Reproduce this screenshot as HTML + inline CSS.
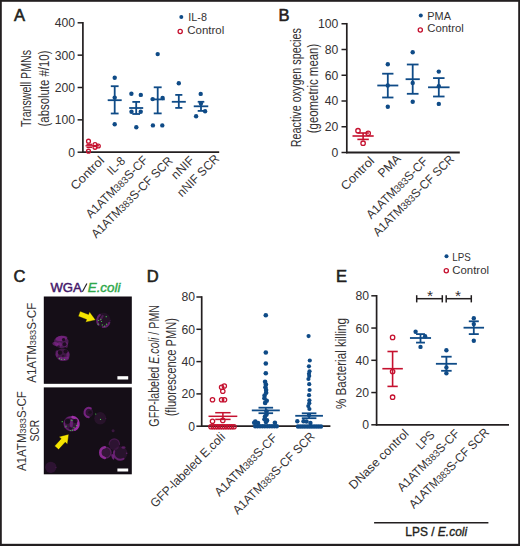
<!DOCTYPE html>
<html><head><meta charset="utf-8"><style>
html,body{margin:0;padding:0;background:#fff;}
svg{display:block;font-family:"Liberation Sans", sans-serif;}
</style></head><body>
<svg width="520" height="546" viewBox="0 0 520 546">
<rect x="0" y="0" width="520" height="546" fill="#231f20"/>
<rect x="1.8" y="1.8" width="516.4" height="542" fill="#fff"/>
<text x="13.9" y="21.2" font-size="16.5" text-anchor="start" fill="#231f20" stroke="#231f20" stroke-width="0.6">A</text>
<text x="278.4" y="21.2" font-size="16.5" text-anchor="start" fill="#231f20" stroke="#231f20" stroke-width="0.6">B</text>
<text x="13.6" y="282.0" font-size="16.5" text-anchor="start" fill="#231f20" stroke="#231f20" stroke-width="0.6">C</text>
<text x="146.8" y="281.6" font-size="16.5" text-anchor="start" fill="#231f20" stroke="#231f20" stroke-width="0.6">D</text>
<text x="335.9" y="281.9" font-size="16.5" text-anchor="start" fill="#231f20" stroke="#231f20" stroke-width="0.6">E</text>
<line x1="82.9" y1="22.0" x2="82.9" y2="153.0" stroke="#231f20" stroke-width="1.7" stroke-linecap="butt"/>
<line x1="77.60000000000001" y1="22.799999999999983" x2="82.9" y2="22.799999999999983" stroke="#231f20" stroke-width="1.5" stroke-linecap="butt"/>
<text x="75.10000000000001" y="27.25" font-size="12.2" text-anchor="end" fill="#353233">400</text>
<line x1="77.60000000000001" y1="55.14999999999999" x2="82.9" y2="55.14999999999999" stroke="#231f20" stroke-width="1.5" stroke-linecap="butt"/>
<text x="75.10000000000001" y="59.6" font-size="12.2" text-anchor="end" fill="#353233">300</text>
<line x1="77.60000000000001" y1="87.49999999999999" x2="82.9" y2="87.49999999999999" stroke="#231f20" stroke-width="1.5" stroke-linecap="butt"/>
<text x="75.10000000000001" y="91.95" font-size="12.2" text-anchor="end" fill="#353233">200</text>
<line x1="77.60000000000001" y1="119.85" x2="82.9" y2="119.85" stroke="#231f20" stroke-width="1.5" stroke-linecap="butt"/>
<text x="75.10000000000001" y="124.3" font-size="12.2" text-anchor="end" fill="#353233">100</text>
<line x1="77.60000000000001" y1="152.2" x2="82.9" y2="152.2" stroke="#231f20" stroke-width="1.5" stroke-linecap="butt"/>
<text x="75.10000000000001" y="156.65" font-size="12.2" text-anchor="end" fill="#353233">0</text>
<line x1="82.1" y1="152.2" x2="219.2" y2="152.2" stroke="#231f20" stroke-width="1.8" stroke-linecap="butt"/>
<text x="31.2" y="88.5" font-size="15" text-anchor="middle" fill="#353233" textLength="77" lengthAdjust="spacingAndGlyphs" transform="rotate(-90 31.2 88.5)">Transwell PMNs</text>
<text x="48.8" y="88.5" font-size="15" text-anchor="middle" fill="#353233" textLength="76" lengthAdjust="spacingAndGlyphs" transform="rotate(-90 48.8 88.5)">(absolute #/10)</text>
<circle cx="181.3" cy="17.0" r="2.0" fill="#0f4b87"/>
<text x="188.3" y="21.1" font-size="11.5" text-anchor="start" fill="#353233" textLength="18.6" lengthAdjust="spacingAndGlyphs">IL-8</text>
<circle cx="180.2" cy="31.5" r="2.1" fill="none" stroke="#c5112f" stroke-width="1.3"/>
<text x="187.3" y="33.6" font-size="11.5" text-anchor="start" fill="#353233" textLength="37" lengthAdjust="spacingAndGlyphs">Control</text>
<circle cx="88.5" cy="141.2" r="1.95" fill="none" stroke="#c5112f" stroke-width="1.3"/>
<circle cx="88.5" cy="151.2" r="1.95" fill="none" stroke="#c5112f" stroke-width="1.3"/>
<circle cx="95" cy="144.6" r="1.95" fill="none" stroke="#c5112f" stroke-width="1.3"/>
<circle cx="95" cy="147.3" r="1.95" fill="none" stroke="#c5112f" stroke-width="1.3"/>
<circle cx="98.3" cy="146" r="1.95" fill="none" stroke="#c5112f" stroke-width="1.3"/>
<line x1="86.5" y1="144.3" x2="92" y2="144.3" stroke="#c5112f" stroke-width="1.3" stroke-linecap="butt"/>
<line x1="86.5" y1="147.4" x2="92" y2="147.4" stroke="#c5112f" stroke-width="1.3" stroke-linecap="butt"/>
<line x1="85.5" y1="145.8" x2="99" y2="145.8" stroke="#c5112f" stroke-width="1.4" stroke-linecap="butt"/>
<line x1="114.7" y1="86.2" x2="114.7" y2="113.5" stroke="#0f4b87" stroke-width="1.8" stroke-linecap="butt"/>
<line x1="110.8" y1="86.2" x2="118.60000000000001" y2="86.2" stroke="#0f4b87" stroke-width="1.8" stroke-linecap="butt"/>
<line x1="110.8" y1="113.5" x2="118.60000000000001" y2="113.5" stroke="#0f4b87" stroke-width="1.8" stroke-linecap="butt"/>
<line x1="107.7" y1="100.2" x2="121.7" y2="100.2" stroke="#0f4b87" stroke-width="1.8" stroke-linecap="butt"/>
<circle cx="114.7" cy="77.7" r="2.2" fill="#0f4b87"/>
<circle cx="114.7" cy="97.6" r="2.2" fill="#0f4b87"/>
<circle cx="114.7" cy="124.2" r="2.2" fill="#0f4b87"/>
<line x1="136.2" y1="101.9" x2="136.2" y2="114" stroke="#0f4b87" stroke-width="1.8" stroke-linecap="butt"/>
<line x1="132.35" y1="101.9" x2="140.04999999999998" y2="101.9" stroke="#0f4b87" stroke-width="1.8" stroke-linecap="butt"/>
<line x1="132.35" y1="114" x2="140.04999999999998" y2="114" stroke="#0f4b87" stroke-width="1.8" stroke-linecap="butt"/>
<line x1="129.2" y1="108" x2="143.2" y2="108" stroke="#0f4b87" stroke-width="1.8" stroke-linecap="butt"/>
<circle cx="131.4" cy="93.8" r="2.2" fill="#0f4b87"/>
<circle cx="140.8" cy="94.9" r="2.2" fill="#0f4b87"/>
<circle cx="131.5" cy="111.8" r="2.2" fill="#0f4b87"/>
<circle cx="140.7" cy="111.8" r="2.2" fill="#0f4b87"/>
<circle cx="136.3" cy="127.3" r="2.2" fill="#0f4b87"/>
<line x1="157.7" y1="87.3" x2="157.7" y2="113.4" stroke="#0f4b87" stroke-width="1.8" stroke-linecap="butt"/>
<line x1="153.75" y1="87.3" x2="161.64999999999998" y2="87.3" stroke="#0f4b87" stroke-width="1.8" stroke-linecap="butt"/>
<line x1="153.75" y1="113.4" x2="161.64999999999998" y2="113.4" stroke="#0f4b87" stroke-width="1.8" stroke-linecap="butt"/>
<line x1="150.7" y1="99.4" x2="164.7" y2="99.4" stroke="#0f4b87" stroke-width="1.8" stroke-linecap="butt"/>
<circle cx="157.7" cy="54.1" r="2.2" fill="#0f4b87"/>
<circle cx="152.7" cy="99.1" r="2.2" fill="#0f4b87"/>
<circle cx="162.6" cy="98.0" r="2.2" fill="#0f4b87"/>
<circle cx="152.9" cy="125.4" r="2.2" fill="#0f4b87"/>
<circle cx="162.3" cy="125.4" r="2.2" fill="#0f4b87"/>
<line x1="178.8" y1="94.9" x2="178.8" y2="107.9" stroke="#0f4b87" stroke-width="1.8" stroke-linecap="butt"/>
<line x1="175.25" y1="94.9" x2="182.35000000000002" y2="94.9" stroke="#0f4b87" stroke-width="1.8" stroke-linecap="butt"/>
<line x1="175.25" y1="107.9" x2="182.35000000000002" y2="107.9" stroke="#0f4b87" stroke-width="1.8" stroke-linecap="butt"/>
<line x1="171.8" y1="101.8" x2="185.8" y2="101.8" stroke="#0f4b87" stroke-width="1.8" stroke-linecap="butt"/>
<circle cx="178.8" cy="83.2" r="2.2" fill="#0f4b87"/>
<line x1="201" y1="101.8" x2="201" y2="110.9" stroke="#0f4b87" stroke-width="1.8" stroke-linecap="butt"/>
<line x1="197.7" y1="101.8" x2="204.3" y2="101.8" stroke="#0f4b87" stroke-width="1.8" stroke-linecap="butt"/>
<line x1="197.7" y1="110.9" x2="204.3" y2="110.9" stroke="#0f4b87" stroke-width="1.8" stroke-linecap="butt"/>
<line x1="193.75" y1="106.3" x2="208.25" y2="106.3" stroke="#0f4b87" stroke-width="1.8" stroke-linecap="butt"/>
<circle cx="200.7" cy="93.9" r="2.2" fill="#0f4b87"/>
<circle cx="200.9" cy="103.5" r="2.2" fill="#0f4b87"/>
<circle cx="205.1" cy="111.2" r="2.2" fill="#0f4b87"/>
<circle cx="196.1" cy="116.2" r="2.2" fill="#0f4b87"/>
<line x1="346.8" y1="22.95" x2="346.8" y2="153.3" stroke="#231f20" stroke-width="1.7" stroke-linecap="butt"/>
<line x1="341.5" y1="23.75" x2="346.8" y2="23.75" stroke="#231f20" stroke-width="1.5" stroke-linecap="butt"/>
<text x="338.40000000000003" y="28.2" font-size="12.2" text-anchor="end" fill="#353233">100</text>
<line x1="341.5" y1="49.5" x2="346.8" y2="49.5" stroke="#231f20" stroke-width="1.5" stroke-linecap="butt"/>
<text x="338.40000000000003" y="53.95" font-size="12.2" text-anchor="end" fill="#353233">80</text>
<line x1="341.5" y1="75.25" x2="346.8" y2="75.25" stroke="#231f20" stroke-width="1.5" stroke-linecap="butt"/>
<text x="338.40000000000003" y="79.7" font-size="12.2" text-anchor="end" fill="#353233">60</text>
<line x1="341.5" y1="101.0" x2="346.8" y2="101.0" stroke="#231f20" stroke-width="1.5" stroke-linecap="butt"/>
<text x="338.40000000000003" y="105.45" font-size="12.2" text-anchor="end" fill="#353233">40</text>
<line x1="341.5" y1="126.75" x2="346.8" y2="126.75" stroke="#231f20" stroke-width="1.5" stroke-linecap="butt"/>
<text x="338.40000000000003" y="131.2" font-size="12.2" text-anchor="end" fill="#353233">20</text>
<line x1="341.5" y1="152.5" x2="346.8" y2="152.5" stroke="#231f20" stroke-width="1.5" stroke-linecap="butt"/>
<text x="338.40000000000003" y="156.95" font-size="12.2" text-anchor="end" fill="#353233">0</text>
<line x1="346.1" y1="152.5" x2="459.8" y2="152.5" stroke="#231f20" stroke-width="1.8" stroke-linecap="butt"/>
<text x="300.8" y="87.7" font-size="15" text-anchor="middle" fill="#353233" textLength="119" lengthAdjust="spacingAndGlyphs" transform="rotate(-90 300.8 87.7)">Reactive oxygen species</text>
<text x="318.3" y="88.5" font-size="15" text-anchor="middle" fill="#353233" textLength="89.5" lengthAdjust="spacingAndGlyphs" transform="rotate(-90 318.3 88.5)">(geometric mean)</text>
<circle cx="420.8" cy="15.5" r="2.0" fill="#0f4b87"/>
<text x="427.3" y="19.6" font-size="11.5" text-anchor="start" fill="#353233" textLength="23.6" lengthAdjust="spacingAndGlyphs">PMA</text>
<circle cx="420.3" cy="30.0" r="2.1" fill="none" stroke="#c5112f" stroke-width="1.3"/>
<text x="427.3" y="31.7" font-size="11.5" text-anchor="start" fill="#353233" textLength="36.5" lengthAdjust="spacingAndGlyphs">Control</text>
<line x1="363.1" y1="133.0" x2="363.1" y2="139.4" stroke="#c5112f" stroke-width="1.6" stroke-linecap="butt"/>
<line x1="357.35" y1="133.0" x2="368.85" y2="133.0" stroke="#c5112f" stroke-width="1.6" stroke-linecap="butt"/>
<line x1="357.35" y1="139.4" x2="368.85" y2="139.4" stroke="#c5112f" stroke-width="1.6" stroke-linecap="butt"/>
<line x1="352.5" y1="136.0" x2="373.70000000000005" y2="136.0" stroke="#c5112f" stroke-width="1.6" stroke-linecap="butt"/>
<circle cx="358" cy="130.7" r="2.2" fill="none" stroke="#c5112f" stroke-width="1.3"/>
<circle cx="368.2" cy="133.3" r="2.2" fill="none" stroke="#c5112f" stroke-width="1.3"/>
<circle cx="363.1" cy="143.2" r="2.2" fill="none" stroke="#c5112f" stroke-width="1.3"/>
<line x1="387.8" y1="73.7" x2="387.8" y2="97.5" stroke="#0f4b87" stroke-width="1.8" stroke-linecap="butt"/>
<line x1="382.15000000000003" y1="73.7" x2="393.45" y2="73.7" stroke="#0f4b87" stroke-width="1.8" stroke-linecap="butt"/>
<line x1="382.15000000000003" y1="97.5" x2="393.45" y2="97.5" stroke="#0f4b87" stroke-width="1.8" stroke-linecap="butt"/>
<line x1="377.3" y1="85.5" x2="398.3" y2="85.5" stroke="#0f4b87" stroke-width="1.8" stroke-linecap="butt"/>
<circle cx="387.8" cy="64.2" r="2.2" fill="#0f4b87"/>
<circle cx="387.8" cy="85.5" r="2.2" fill="#0f4b87"/>
<circle cx="387.8" cy="106.7" r="2.2" fill="#0f4b87"/>
<line x1="412.7" y1="64.5" x2="412.7" y2="93.8" stroke="#0f4b87" stroke-width="1.8" stroke-linecap="butt"/>
<line x1="406.84999999999997" y1="64.5" x2="418.55" y2="64.5" stroke="#0f4b87" stroke-width="1.8" stroke-linecap="butt"/>
<line x1="406.84999999999997" y1="93.8" x2="418.55" y2="93.8" stroke="#0f4b87" stroke-width="1.8" stroke-linecap="butt"/>
<line x1="405.59999999999997" y1="79.2" x2="419.8" y2="79.2" stroke="#0f4b87" stroke-width="1.8" stroke-linecap="butt"/>
<circle cx="412.7" cy="52.2" r="2.2" fill="#0f4b87"/>
<circle cx="412.7" cy="82.9" r="2.2" fill="#0f4b87"/>
<circle cx="412.7" cy="101.8" r="2.2" fill="#0f4b87"/>
<line x1="438.8" y1="78.1" x2="438.8" y2="96.5" stroke="#0f4b87" stroke-width="1.8" stroke-linecap="butt"/>
<line x1="433.05" y1="78.1" x2="444.55" y2="78.1" stroke="#0f4b87" stroke-width="1.8" stroke-linecap="butt"/>
<line x1="433.05" y1="96.5" x2="444.55" y2="96.5" stroke="#0f4b87" stroke-width="1.8" stroke-linecap="butt"/>
<line x1="428.05" y1="87.3" x2="449.55" y2="87.3" stroke="#0f4b87" stroke-width="1.8" stroke-linecap="butt"/>
<circle cx="438.8" cy="71.6" r="2.2" fill="#0f4b87"/>
<circle cx="438.8" cy="86.2" r="2.2" fill="#0f4b87"/>
<circle cx="438.8" cy="103.9" r="2.2" fill="#0f4b87"/>
<line x1="201.7" y1="296.2" x2="201.7" y2="427.0" stroke="#231f20" stroke-width="1.7" stroke-linecap="butt"/>
<line x1="196.39999999999998" y1="297.0" x2="201.7" y2="297.0" stroke="#231f20" stroke-width="1.5" stroke-linecap="butt"/>
<text x="195.0" y="301.45" font-size="12.2" text-anchor="end" fill="#353233">80</text>
<line x1="196.39999999999998" y1="329.29999999999995" x2="201.7" y2="329.29999999999995" stroke="#231f20" stroke-width="1.5" stroke-linecap="butt"/>
<text x="195.0" y="333.75" font-size="12.2" text-anchor="end" fill="#353233">60</text>
<line x1="196.39999999999998" y1="361.6" x2="201.7" y2="361.6" stroke="#231f20" stroke-width="1.5" stroke-linecap="butt"/>
<text x="195.0" y="366.05" font-size="12.2" text-anchor="end" fill="#353233">40</text>
<line x1="196.39999999999998" y1="393.9" x2="201.7" y2="393.9" stroke="#231f20" stroke-width="1.5" stroke-linecap="butt"/>
<text x="195.0" y="398.35" font-size="12.2" text-anchor="end" fill="#353233">20</text>
<line x1="196.39999999999998" y1="426.2" x2="201.7" y2="426.2" stroke="#231f20" stroke-width="1.5" stroke-linecap="butt"/>
<text x="195.0" y="430.65" font-size="12.2" text-anchor="end" fill="#353233">0</text>
<line x1="201.0" y1="426.2" x2="330.4" y2="426.2" stroke="#231f20" stroke-width="1.8" stroke-linecap="butt"/>
<text x="158.8" y="365.8" font-size="15" text-anchor="middle" fill="#353233" textLength="121.7" lengthAdjust="spacingAndGlyphs" transform="rotate(-90 158.8 365.8)">GFP-labeled <tspan font-style="italic">E.coli</tspan> / PMN</text>
<text x="175.8" y="367.2" font-size="15" text-anchor="middle" fill="#353233" textLength="98.3" lengthAdjust="spacingAndGlyphs" transform="rotate(-90 175.8 367.2)">(fluorescence PMN)</text>
<line x1="376.6" y1="295.0" x2="376.6" y2="425.6" stroke="#231f20" stroke-width="1.7" stroke-linecap="butt"/>
<line x1="371.3" y1="295.8" x2="376.6" y2="295.8" stroke="#231f20" stroke-width="1.5" stroke-linecap="butt"/>
<text x="369.0" y="300.25" font-size="12.2" text-anchor="end" fill="#353233">80</text>
<line x1="371.3" y1="328.05" x2="376.6" y2="328.05" stroke="#231f20" stroke-width="1.5" stroke-linecap="butt"/>
<text x="369.0" y="332.5" font-size="12.2" text-anchor="end" fill="#353233">60</text>
<line x1="371.3" y1="360.3" x2="376.6" y2="360.3" stroke="#231f20" stroke-width="1.5" stroke-linecap="butt"/>
<text x="369.0" y="364.75" font-size="12.2" text-anchor="end" fill="#353233">40</text>
<line x1="371.3" y1="392.55" x2="376.6" y2="392.55" stroke="#231f20" stroke-width="1.5" stroke-linecap="butt"/>
<text x="369.0" y="397.0" font-size="12.2" text-anchor="end" fill="#353233">20</text>
<line x1="371.3" y1="424.8" x2="376.6" y2="424.8" stroke="#231f20" stroke-width="1.5" stroke-linecap="butt"/>
<text x="369.0" y="429.25" font-size="12.2" text-anchor="end" fill="#353233">0</text>
<line x1="375.9" y1="424.8" x2="509" y2="424.8" stroke="#231f20" stroke-width="1.8" stroke-linecap="butt"/>
<text x="346.3" y="363.5" font-size="15" text-anchor="middle" fill="#353233" textLength="91" lengthAdjust="spacingAndGlyphs" transform="rotate(-90 346.3 363.5)">% Bacterial killing</text>
<circle cx="446.5" cy="256.2" r="2.0" fill="#0f4b87"/>
<text x="452.3" y="261.2" font-size="11.5" text-anchor="start" fill="#353233" textLength="18.5" lengthAdjust="spacingAndGlyphs">LPS</text>
<circle cx="446.3" cy="270.8" r="2.1" fill="none" stroke="#c5112f" stroke-width="1.3"/>
<text x="452.3" y="273.6" font-size="11.5" text-anchor="start" fill="#353233" textLength="36.7" lengthAdjust="spacingAndGlyphs">Control</text>
<line x1="416.7" y1="298.7" x2="442.3" y2="298.7" stroke="#231f20" stroke-width="1.5" stroke-linecap="butt"/>
<line x1="416.7" y1="295.2" x2="416.7" y2="302.4" stroke="#231f20" stroke-width="1.5" stroke-linecap="butt"/>
<line x1="442.3" y1="295.2" x2="442.3" y2="302.4" stroke="#231f20" stroke-width="1.5" stroke-linecap="butt"/>
<text x="430" y="301.3" font-size="15.5" text-anchor="middle" fill="#353233">*</text>
<line x1="446.2" y1="298.7" x2="471.3" y2="298.7" stroke="#231f20" stroke-width="1.5" stroke-linecap="butt"/>
<line x1="446.2" y1="295.2" x2="446.2" y2="302.4" stroke="#231f20" stroke-width="1.5" stroke-linecap="butt"/>
<line x1="471.3" y1="295.2" x2="471.3" y2="302.4" stroke="#231f20" stroke-width="1.5" stroke-linecap="butt"/>
<text x="458" y="301.3" font-size="15.5" text-anchor="middle" fill="#353233">*</text>
<circle cx="392.6" cy="337.4" r="2.2" fill="none" stroke="#c5112f" stroke-width="1.3"/>
<circle cx="392.6" cy="371.5" r="2.2" fill="none" stroke="#c5112f" stroke-width="1.3"/>
<circle cx="392.6" cy="397.2" r="2.2" fill="none" stroke="#c5112f" stroke-width="1.3"/>
<line x1="392.6" y1="351.5" x2="392.6" y2="386.4" stroke="#c5112f" stroke-width="1.6" stroke-linecap="butt"/>
<line x1="387.45000000000005" y1="351.5" x2="397.75" y2="351.5" stroke="#c5112f" stroke-width="1.6" stroke-linecap="butt"/>
<line x1="387.45000000000005" y1="386.4" x2="397.75" y2="386.4" stroke="#c5112f" stroke-width="1.6" stroke-linecap="butt"/>
<line x1="382.35" y1="368.7" x2="402.85" y2="368.7" stroke="#c5112f" stroke-width="1.6" stroke-linecap="butt"/>
<line x1="420.5" y1="334.1" x2="420.5" y2="342.6" stroke="#0f4b87" stroke-width="1.8" stroke-linecap="butt"/>
<line x1="416.05" y1="334.1" x2="424.95" y2="334.1" stroke="#0f4b87" stroke-width="1.8" stroke-linecap="butt"/>
<line x1="416.05" y1="342.6" x2="424.95" y2="342.6" stroke="#0f4b87" stroke-width="1.8" stroke-linecap="butt"/>
<line x1="409.95" y1="338" x2="431.05" y2="338" stroke="#0f4b87" stroke-width="1.8" stroke-linecap="butt"/>
<circle cx="415.6" cy="331.8" r="2.2" fill="#0f4b87"/>
<circle cx="425.1" cy="336.2" r="2.2" fill="#0f4b87"/>
<circle cx="420.5" cy="346.9" r="2.2" fill="#0f4b87"/>
<line x1="446.4" y1="356.7" x2="446.4" y2="370.8" stroke="#0f4b87" stroke-width="1.8" stroke-linecap="butt"/>
<line x1="441.15" y1="356.7" x2="451.65" y2="356.7" stroke="#0f4b87" stroke-width="1.8" stroke-linecap="butt"/>
<line x1="441.15" y1="370.8" x2="451.65" y2="370.8" stroke="#0f4b87" stroke-width="1.8" stroke-linecap="butt"/>
<line x1="435.9" y1="363.8" x2="456.9" y2="363.8" stroke="#0f4b87" stroke-width="1.8" stroke-linecap="butt"/>
<circle cx="446.4" cy="350.3" r="2.2" fill="#0f4b87"/>
<circle cx="446.4" cy="367.4" r="2.2" fill="#0f4b87"/>
<circle cx="446.4" cy="373.3" r="2.2" fill="#0f4b87"/>
<line x1="473.8" y1="321.3" x2="473.8" y2="334.1" stroke="#0f4b87" stroke-width="1.8" stroke-linecap="butt"/>
<line x1="468.8" y1="321.3" x2="478.8" y2="321.3" stroke="#0f4b87" stroke-width="1.8" stroke-linecap="butt"/>
<line x1="468.8" y1="334.1" x2="478.8" y2="334.1" stroke="#0f4b87" stroke-width="1.8" stroke-linecap="butt"/>
<line x1="463.55" y1="327.7" x2="484.05" y2="327.7" stroke="#0f4b87" stroke-width="1.8" stroke-linecap="butt"/>
<circle cx="473.8" cy="318.2" r="2.2" fill="#0f4b87"/>
<circle cx="473.8" cy="324.1" r="2.2" fill="#0f4b87"/>
<circle cx="473.8" cy="340.8" r="2.2" fill="#0f4b87"/>
<line x1="374.1" y1="522.7" x2="488.4" y2="522.7" stroke="#231f20" stroke-width="1.4" stroke-linecap="butt"/>
<text x="405.3" y="536.2" font-size="12" text-anchor="start" fill="#231f20" textLength="61.8" lengthAdjust="spacingAndGlyphs" stroke="#231f20" stroke-width="0.35">LPS / <tspan font-style="italic">E.coli</tspan></text>
<text x="105.0" y="161.25" font-size="12.3" text-anchor="end" fill="#353233" textLength="41.85" lengthAdjust="spacingAndGlyphs" transform="rotate(-45 105.0 161.25)">Control</text>
<text x="126.1" y="161.65" font-size="12.3" text-anchor="end" fill="#353233" textLength="19.86" lengthAdjust="spacingAndGlyphs" transform="rotate(-45 126.1 161.65)">IL-8</text>
<text x="148.7" y="160.9" font-size="12.3" text-anchor="end" fill="#353233" textLength="81.95" lengthAdjust="spacingAndGlyphs" transform="rotate(-45 148.7 160.9)">A1ATM<tspan font-size="10.09">383</tspan>S-CF</text>
<text x="173.4" y="161.6" font-size="12.3" text-anchor="end" fill="#353233" textLength="109.2" lengthAdjust="spacingAndGlyphs" transform="rotate(-45 173.4 161.6)">A1ATM<tspan font-size="10.09">383</tspan>S-CF SCR</text>
<text x="195.0" y="161.05" font-size="12.3" text-anchor="end" fill="#353233" textLength="26.73" lengthAdjust="spacingAndGlyphs" transform="rotate(-45 195.0 161.05)">nNIF</text>
<text x="219.9" y="159.6" font-size="12.3" text-anchor="end" fill="#353233" textLength="53.49" lengthAdjust="spacingAndGlyphs" transform="rotate(-45 219.9 159.6)">nNIF SCR</text>
<text x="375.05" y="161.6" font-size="12.3" text-anchor="end" fill="#353233" textLength="41.42" lengthAdjust="spacingAndGlyphs" transform="rotate(-45 375.05 161.6)">Control</text>
<text x="401.65" y="159.45" font-size="12.3" text-anchor="end" fill="#353233" textLength="26.66" lengthAdjust="spacingAndGlyphs" transform="rotate(-45 401.65 159.45)">PMA</text>
<text x="428.55" y="162.2" font-size="12.3" text-anchor="end" fill="#353233" textLength="81.03" lengthAdjust="spacingAndGlyphs" transform="rotate(-45 428.55 162.2)">A1ATM<tspan font-size="10.09">383</tspan>S-CF</text>
<text x="455.0" y="159.95" font-size="12.3" text-anchor="end" fill="#353233" textLength="108.85" lengthAdjust="spacingAndGlyphs" transform="rotate(-45 455.0 159.95)">A1ATM<tspan font-size="10.09">383</tspan>S-CF SCR</text>
<text x="225.8" y="437.7" font-size="12.3" text-anchor="end" fill="#353233" textLength="99.7" lengthAdjust="spacingAndGlyphs" transform="rotate(-45 225.8 437.7)">GFP-labeled E.coli</text>
<text x="277.95" y="438.7" font-size="12.3" text-anchor="end" fill="#353233" textLength="82.58" lengthAdjust="spacingAndGlyphs" transform="rotate(-45 277.95 438.7)">A1ATM<tspan font-size="10.09">383</tspan>S-CF</text>
<text x="315.5" y="437.2" font-size="12.3" text-anchor="end" fill="#353233" textLength="109.91" lengthAdjust="spacingAndGlyphs" transform="rotate(-45 315.5 437.2)">A1ATM<tspan font-size="10.09">383</tspan>S-CF SCR</text>
<text x="409.5" y="434.4" font-size="12.3" text-anchor="end" fill="#353233" textLength="78.77" lengthAdjust="spacingAndGlyphs" transform="rotate(-45 409.5 434.4)">DNase control</text>
<text x="435.4" y="435.85" font-size="12.3" text-anchor="end" fill="#353233" textLength="20.49" lengthAdjust="spacingAndGlyphs" transform="rotate(-45 435.4 435.85)">LPS</text>
<text x="460.25" y="434.35" font-size="12.3" text-anchor="end" fill="#353233" textLength="81.95" lengthAdjust="spacingAndGlyphs" transform="rotate(-45 460.25 434.35)">A1ATM<tspan font-size="10.09">383</tspan>S-CF</text>
<text x="490.0" y="433.2" font-size="12.3" text-anchor="end" fill="#353233" textLength="107.64" lengthAdjust="spacingAndGlyphs" transform="rotate(-45 490.0 433.2)">A1ATM<tspan font-size="10.09">383</tspan>S-CF SCR</text>
<circle cx="212.5" cy="399.7" r="2.2" fill="none" stroke="#c5112f" stroke-width="1.25"/>
<circle cx="221.6" cy="399.7" r="2.2" fill="none" stroke="#c5112f" stroke-width="1.25"/>
<circle cx="224.5" cy="399.7" r="2.2" fill="none" stroke="#c5112f" stroke-width="1.25"/>
<circle cx="222.8" cy="391.3" r="2.2" fill="none" stroke="#c5112f" stroke-width="1.25"/>
<circle cx="221.6" cy="387.2" r="2.2" fill="none" stroke="#c5112f" stroke-width="1.25"/>
<circle cx="224.3" cy="386" r="2.2" fill="none" stroke="#c5112f" stroke-width="1.25"/>
<circle cx="212.5" cy="421.3" r="2.2" fill="none" stroke="#c5112f" stroke-width="1.25"/>
<circle cx="222.8" cy="420.4" r="2.2" fill="none" stroke="#c5112f" stroke-width="1.25"/>
<circle cx="211.0" cy="426.7" r="2.2" fill="none" stroke="#c5112f" stroke-width="1.25"/>
<circle cx="213.3" cy="426.7" r="2.2" fill="none" stroke="#c5112f" stroke-width="1.25"/>
<circle cx="215.6" cy="426.7" r="2.2" fill="none" stroke="#c5112f" stroke-width="1.25"/>
<circle cx="217.9" cy="426.7" r="2.2" fill="none" stroke="#c5112f" stroke-width="1.25"/>
<circle cx="220.2" cy="426.7" r="2.2" fill="none" stroke="#c5112f" stroke-width="1.25"/>
<circle cx="222.5" cy="426.7" r="2.2" fill="none" stroke="#c5112f" stroke-width="1.25"/>
<circle cx="224.8" cy="426.7" r="2.2" fill="none" stroke="#c5112f" stroke-width="1.25"/>
<circle cx="227.1" cy="426.7" r="2.2" fill="none" stroke="#c5112f" stroke-width="1.25"/>
<circle cx="229.4" cy="426.7" r="2.2" fill="none" stroke="#c5112f" stroke-width="1.25"/>
<circle cx="231.7" cy="426.7" r="2.2" fill="none" stroke="#c5112f" stroke-width="1.25"/>
<circle cx="234.0" cy="426.7" r="2.2" fill="none" stroke="#c5112f" stroke-width="1.25"/>
<line x1="222.9" y1="412.7" x2="222.9" y2="419.4" stroke="#c5112f" stroke-width="1.5" stroke-linecap="butt"/>
<line x1="215.20000000000002" y1="412.7" x2="230.6" y2="412.7" stroke="#c5112f" stroke-width="1.5" stroke-linecap="butt"/>
<line x1="215.20000000000002" y1="419.4" x2="230.6" y2="419.4" stroke="#c5112f" stroke-width="1.5" stroke-linecap="butt"/>
<line x1="208.5" y1="416.3" x2="237.3" y2="416.3" stroke="#c5112f" stroke-width="1.5" stroke-linecap="butt"/>
<circle cx="265.8" cy="315.2" r="2.3" fill="#0f4b87"/>
<circle cx="265.8" cy="352.5" r="2.3" fill="#0f4b87"/>
<circle cx="265.8" cy="363.5" r="2.3" fill="#0f4b87"/>
<circle cx="265.8" cy="373.2" r="2.3" fill="#0f4b87"/>
<circle cx="265.07" cy="381.8" r="2.3" fill="#0f4b87"/>
<circle cx="265.92" cy="384.5" r="2.3" fill="#0f4b87"/>
<circle cx="265.44" cy="387.3" r="2.3" fill="#0f4b87"/>
<circle cx="266.09" cy="390.0" r="2.3" fill="#0f4b87"/>
<circle cx="266.15" cy="392.8" r="2.3" fill="#0f4b87"/>
<circle cx="264.58" cy="395.5" r="2.3" fill="#0f4b87"/>
<circle cx="264.44" cy="398.2" r="2.3" fill="#0f4b87"/>
<circle cx="266.74" cy="400.8" r="2.3" fill="#0f4b87"/>
<circle cx="265.13" cy="402.9" r="2.3" fill="#0f4b87"/>
<circle cx="266.5" cy="411.5" r="2.3" fill="#0f4b87"/>
<circle cx="266.5" cy="414.6" r="2.3" fill="#0f4b87"/>
<circle cx="265" cy="416.5" r="2.3" fill="#0f4b87"/>
<circle cx="264.5" cy="419.2" r="2.3" fill="#0f4b87"/>
<circle cx="267" cy="420.4" r="2.3" fill="#0f4b87"/>
<circle cx="266" cy="422" r="2.3" fill="#0f4b87"/>
<circle cx="255.3" cy="421.5" r="2.3" fill="#0f4b87"/>
<circle cx="254.2" cy="422.7" r="2.3" fill="#0f4b87"/>
<circle cx="258" cy="423" r="2.3" fill="#0f4b87"/>
<circle cx="274.9" cy="422.7" r="2.3" fill="#0f4b87"/>
<circle cx="255.2" cy="426.2" r="2.2" fill="#0f4b87"/>
<circle cx="257.6" cy="426.2" r="2.2" fill="#0f4b87"/>
<circle cx="260.0" cy="426.2" r="2.2" fill="#0f4b87"/>
<circle cx="262.4" cy="426.2" r="2.2" fill="#0f4b87"/>
<circle cx="264.8" cy="426.2" r="2.2" fill="#0f4b87"/>
<circle cx="267.2" cy="426.2" r="2.2" fill="#0f4b87"/>
<circle cx="269.6" cy="426.2" r="2.2" fill="#0f4b87"/>
<circle cx="272.0" cy="426.2" r="2.2" fill="#0f4b87"/>
<circle cx="274.4" cy="426.2" r="2.2" fill="#0f4b87"/>
<circle cx="276.8" cy="426.2" r="2.2" fill="#0f4b87"/>
<line x1="265.8" y1="407.7" x2="265.8" y2="413.2" stroke="#0f4b87" stroke-width="1.8" stroke-linecap="butt"/>
<line x1="258.5" y1="407.7" x2="273.1" y2="407.7" stroke="#0f4b87" stroke-width="1.8" stroke-linecap="butt"/>
<line x1="258.5" y1="413.2" x2="273.1" y2="413.2" stroke="#0f4b87" stroke-width="1.8" stroke-linecap="butt"/>
<line x1="251.8" y1="410.4" x2="279.8" y2="410.4" stroke="#0f4b87" stroke-width="1.8" stroke-linecap="butt"/>
<circle cx="308.57" cy="336.1" r="2.1" fill="#0f4b87"/>
<circle cx="309.79" cy="360.5" r="2.1" fill="#0f4b87"/>
<circle cx="308.95" cy="366.3" r="2.1" fill="#0f4b87"/>
<circle cx="309.54" cy="371.3" r="2.1" fill="#0f4b87"/>
<circle cx="308.96" cy="373.8" r="2.1" fill="#0f4b87"/>
<circle cx="309.22" cy="376.1" r="2.1" fill="#0f4b87"/>
<circle cx="308.44" cy="379" r="2.1" fill="#0f4b87"/>
<circle cx="309.22" cy="384.2" r="2.1" fill="#0f4b87"/>
<circle cx="309.59" cy="390" r="2.1" fill="#0f4b87"/>
<circle cx="309.04" cy="395.2" r="2.1" fill="#0f4b87"/>
<circle cx="309.39" cy="400.3" r="2.1" fill="#0f4b87"/>
<circle cx="309.27" cy="403.2" r="2.1" fill="#0f4b87"/>
<circle cx="308.3" cy="406.1" r="2.1" fill="#0f4b87"/>
<circle cx="309.41" cy="409" r="2.1" fill="#0f4b87"/>
<circle cx="297.3" cy="421.2" r="2.2" fill="#0f4b87"/>
<circle cx="303.5" cy="421.3" r="2.2" fill="#0f4b87"/>
<circle cx="306.5" cy="421.5" r="2.2" fill="#0f4b87"/>
<circle cx="310.4" cy="423" r="2.2" fill="#0f4b87"/>
<circle cx="309" cy="415" r="2.2" fill="#0f4b87"/>
<circle cx="298.0" cy="426.5" r="2.2" fill="#0f4b87"/>
<circle cx="300.3" cy="426.5" r="2.2" fill="#0f4b87"/>
<circle cx="302.6" cy="426.5" r="2.2" fill="#0f4b87"/>
<circle cx="304.9" cy="426.5" r="2.2" fill="#0f4b87"/>
<circle cx="307.2" cy="426.5" r="2.2" fill="#0f4b87"/>
<circle cx="309.5" cy="426.5" r="2.2" fill="#0f4b87"/>
<circle cx="311.8" cy="426.5" r="2.2" fill="#0f4b87"/>
<circle cx="314.1" cy="426.5" r="2.2" fill="#0f4b87"/>
<circle cx="316.4" cy="426.5" r="2.2" fill="#0f4b87"/>
<circle cx="318.7" cy="426.5" r="2.2" fill="#0f4b87"/>
<circle cx="321.0" cy="426.5" r="2.2" fill="#0f4b87"/>
<line x1="309.1" y1="413.3" x2="309.1" y2="418.2" stroke="#0f4b87" stroke-width="1.8" stroke-linecap="butt"/>
<line x1="301.8" y1="413.3" x2="316.40000000000003" y2="413.3" stroke="#0f4b87" stroke-width="1.8" stroke-linecap="butt"/>
<line x1="301.8" y1="418.2" x2="316.40000000000003" y2="418.2" stroke="#0f4b87" stroke-width="1.8" stroke-linecap="butt"/>
<line x1="295.25" y1="415.8" x2="322.95000000000005" y2="415.8" stroke="#0f4b87" stroke-width="1.8" stroke-linecap="butt"/>
<text x="50.4" y="291.8" font-size="12.4" text-anchor="start" fill="#45186a" textLength="31.3" lengthAdjust="spacingAndGlyphs" stroke="#45186a" stroke-width="0.45">WGA</text>
<line x1="82.4" y1="291.7" x2="86.9" y2="283.5" stroke="#231f20" stroke-width="1.15" stroke-linecap="butt"/>
<text x="87.7" y="291.8" font-size="12.4" text-anchor="start" font-style="italic" fill="#2ea84a" textLength="32.8" lengthAdjust="spacingAndGlyphs" stroke="#2ea84a" stroke-width="0.4">E.coli</text>
<text x="36.1" y="342.8" font-size="12.3" text-anchor="middle" fill="#353233" textLength="80" lengthAdjust="spacingAndGlyphs" transform="rotate(-90 36.1 342.8)">A1ATM<tspan font-size="9.84">383</tspan>S-CF</text>
<text x="26.5" y="431.1" font-size="12.3" text-anchor="middle" fill="#353233" textLength="80" lengthAdjust="spacingAndGlyphs" transform="rotate(-90 26.5 431.1)">A1ATM<tspan font-size="9.84">383</tspan>S-CF</text>
<text x="38.7" y="430.7" font-size="12.3" text-anchor="middle" fill="#353233" textLength="21.7" lengthAdjust="spacingAndGlyphs" transform="rotate(-90 38.7 430.7)">SCR</text>
<defs><filter id="bl" x="-50%" y="-50%" width="200%" height="200%"><feGaussianBlur stdDeviation="0.8"/></filter><filter id="bl2" x="-50%" y="-50%" width="200%" height="200%"><feGaussianBlur stdDeviation="0.75"/></filter></defs>
<rect x="43.8" y="296.5" width="88" height="87.30000000000001" fill="#0e0910"/>
<rect x="44.6" y="297.3" width="86.4" height="85.70000000000002" fill="#150e17"/>
<rect x="43.8" y="387.4" width="88" height="86.90000000000003" fill="#0e0910"/>
<rect x="44.6" y="388.2" width="86.4" height="85.30000000000004" fill="#150e17"/>
<g filter="url(#bl2)">
<ellipse cx="103.5" cy="320.4" rx="7.2" ry="7.6" fill="#8f2a9c" fill-opacity="0.12"/>
<path d="M110.10 320.40 A6.6 7.0 0 0 1 110.10 320.40" fill="none" stroke="#8f2a9c" stroke-width="1.0" stroke-opacity="0.3" stroke-linecap="round"/>
<path d="M98.60 324.77 A6.4 6.8 0 0 1 99.83 314.83" fill="none" stroke="#8f2a9c" stroke-width="2.0" stroke-opacity="0.6" stroke-linecap="round"/>
<path d="M109.33 322.66 A6.2 6.6 0 0 1 102.96 326.97" fill="none" stroke="#8f2a9c" stroke-width="2.0" stroke-opacity="0.55" stroke-linecap="round"/>
<ellipse cx="101.5" cy="318" rx="1.2" ry="3.5" fill="#8f2a9c" fill-opacity="0.35" transform="rotate(30 101.5 318)"/>
<ellipse cx="61.3" cy="342.0" rx="7.2" ry="6.2" fill="#8f2a9c" fill-opacity="0.45"/>
<ellipse cx="61.5" cy="338.4" rx="6.0" ry="2.6" fill="#8f2a9c" fill-opacity="0.55" transform="rotate(-8 61.5 338.4)"/>
<ellipse cx="55.5" cy="344.0" rx="3.2" ry="1.8" fill="#8f2a9c" fill-opacity="0.55" transform="rotate(20 55.5 344.0)"/>
<ellipse cx="59.5" cy="344.5" rx="2.6" ry="2.2" fill="#8f2a9c" fill-opacity="0.45"/>
<ellipse cx="66.5" cy="345.0" rx="1.6" ry="3.0" fill="#8f2a9c" fill-opacity="0.35"/>
<circle cx="63.6" cy="339.6" r="1.7" fill="#150e17" fill-opacity="0.85"/>
<circle cx="64.6" cy="344.2" r="1.9" fill="#150e17" fill-opacity="0.85"/>
<circle cx="58.6" cy="346.6" r="1.3" fill="#150e17" fill-opacity="0.6"/>
<ellipse cx="62.6" cy="354.6" rx="7.0" ry="6.2" fill="#8f2a9c" fill-opacity="0.35"/>
<ellipse cx="63.5" cy="358.6" rx="5.6" ry="2.2" fill="#8f2a9c" fill-opacity="0.55"/>
<ellipse cx="57.0" cy="353.6" rx="1.6" ry="3.4" fill="#8f2a9c" fill-opacity="0.45"/>
<ellipse cx="68.0" cy="355.0" rx="1.6" ry="3.6" fill="#8f2a9c" fill-opacity="0.45"/>
<circle cx="60.0" cy="352.6" r="2.2" fill="#150e17" fill-opacity="0.85"/>
<circle cx="65.6" cy="351.6" r="2.0" fill="#150e17" fill-opacity="0.85"/>
<circle cx="63.2" cy="356.2" r="1.3" fill="#150e17" fill-opacity="0.55"/>
</g>
<circle cx="98.5" cy="320.3" r="0.62" fill="#46d04a"/>
<circle cx="100.8" cy="319.3" r="0.62" fill="#46d04a"/>
<circle cx="101.5" cy="321.5" r="0.62" fill="#46d04a"/>
<circle cx="98.1" cy="324.2" r="0.62" fill="#46d04a"/>
<circle cx="102.3" cy="324.9" r="0.62" fill="#46d04a"/>
<circle cx="106.2" cy="316.7" r="0.62" fill="#46d04a"/>
<circle cx="104.6" cy="326.1" r="0.62" fill="#46d04a"/>
<circle cx="106.5" cy="324.2" r="0.62" fill="#46d04a"/>
<circle cx="59.5" cy="358.5" r="0.55" fill="#46d04a"/>
<circle cx="61.5" cy="359.2" r="0.55" fill="#46d04a"/>
<circle cx="64.5" cy="359.5" r="0.55" fill="#46d04a"/>
<polygon points="78.25,316.33 86.60,319.48 85.58,322.20 95.60,320.00 89.54,311.72 88.51,314.43 80.15,311.27" fill="#f5e400" stroke="#0a0608" stroke-width="0.6" stroke-opacity="0.6"/>
<rect x="117.4" y="376.2" width="10.8" height="3.3" fill="#fff"/>
<g filter="url(#bl2)">
<ellipse cx="71.4" cy="423.8" rx="7.6" ry="7.2" fill="#8f2a9c" fill-opacity="0.3"/>
<path d="M65.34 427.20 A7.0 6.8 0 0 1 72.62 417.10" fill="none" stroke="#8f2a9c" stroke-width="1.8" stroke-opacity="0.55" stroke-linecap="round"/>
<path d="M72.62 417.10 A7.0 6.8 0 0 1 74.90 429.69" fill="none" stroke="#a431ae" stroke-width="2.6" stroke-opacity="0.95" stroke-linecap="round"/>
<path d="M74.90 429.69 A7.0 6.8 0 0 1 65.34 427.20" fill="none" stroke="#8f2a9c" stroke-width="1.6" stroke-opacity="0.45" stroke-linecap="round"/>
<ellipse cx="71.3" cy="423.5" rx="1.6" ry="4.5" fill="#8f2a9c" fill-opacity="0.55"/>
<circle cx="67.5" cy="421.3" r="2.7" fill="#150e17" fill-opacity="0.85"/>
<circle cx="75.4" cy="421.0" r="2.3" fill="#150e17" fill-opacity="0.85"/>
<circle cx="70.5" cy="428.2" r="1.5" fill="#150e17" fill-opacity="0.6"/>
<ellipse cx="88.7" cy="412.5" rx="4.5" ry="5.1" fill="#8f2a9c" fill-opacity="0.22"/>
<path d="M88.70 417.30 A4.2 4.8 0 1 1 90.80 408.34" fill="none" stroke="#8f2a9c" stroke-width="2.0" stroke-opacity="0.75" stroke-linecap="round"/>
<circle cx="90.0" cy="412.3" r="1.8" fill="#150e17" fill-opacity="0.7"/>
<ellipse cx="100.2" cy="418.3" rx="6.0" ry="6.2" fill="#8f2a9c" fill-opacity="0.15"/>
<path d="M105.80 418.30 A5.6 5.8 0 0 1 105.80 418.30" fill="none" stroke="#8f2a9c" stroke-width="1.2" stroke-opacity="0.3" stroke-linecap="round"/>
<ellipse cx="105.7" cy="452.6" rx="5.8" ry="5.8" fill="#8f2a9c" fill-opacity="0.25"/>
<path d="M104.76 457.92 A5.4 5.4 0 0 1 104.76 447.28" fill="none" stroke="#a431ae" stroke-width="2.6" stroke-opacity="0.8" stroke-linecap="round"/>
<path d="M105.70 447.20 A5.4 5.4 0 0 1 105.70 458.00" fill="none" stroke="#8f2a9c" stroke-width="1.4" stroke-opacity="0.35" stroke-linecap="round"/>
<ellipse cx="114.3" cy="444.3" rx="5.5" ry="5.8" fill="#8f2a9c" fill-opacity="0.2"/>
<path d="M109.10 444.30 A5.2 5.5 0 0 1 119.50 444.30" fill="none" stroke="#8f2a9c" stroke-width="1.2" stroke-opacity="0.3" stroke-linecap="round"/>
<ellipse cx="120.3" cy="453.3" rx="7.0" ry="7.0" fill="#8f2a9c" fill-opacity="0.16"/>
<path d="M126.70 453.30 A6.4 6.4 0 0 1 126.70 453.30" fill="none" stroke="#8f2a9c" stroke-width="1.6" stroke-opacity="0.55" stroke-linecap="round"/>
<path d="M123.50 458.84 A6.4 6.4 0 0 1 114.29 451.11" fill="none" stroke="#8f2a9c" stroke-width="2.0" stroke-opacity="0.6" stroke-linecap="round"/>
<ellipse cx="112.9" cy="456.8" rx="1.3" ry="3.0" fill="#8f2a9c" fill-opacity="0.7" transform="rotate(-20 112.9 456.8)"/>
<ellipse cx="123.5" cy="447.5" rx="2" ry="1.2" fill="#8f2a9c" fill-opacity="0.5"/>
<ellipse cx="50.8" cy="467.3" rx="5.6" ry="5.6" fill="#8f2a9c" fill-opacity="0.2"/>
<path d="M56.00 467.30 A5.2 5.2 0 0 1 56.00 467.30" fill="none" stroke="#8f2a9c" stroke-width="1.3" stroke-opacity="0.3" stroke-linecap="round"/>
<circle cx="113.1" cy="430.7" r="1.5" fill="#8f2a9c" opacity="0.3"/>
</g>
<circle cx="62.2" cy="421.7" r="0.62" fill="#46d04a"/>
<circle cx="71.9" cy="420.4" r="0.62" fill="#46d04a"/>
<circle cx="66.1" cy="426.2" r="0.62" fill="#46d04a"/>
<circle cx="74.0" cy="427.7" r="0.62" fill="#46d04a"/>
<circle cx="70.3" cy="430.5" r="0.62" fill="#46d04a"/>
<circle cx="72.5" cy="430.2" r="0.62" fill="#46d04a"/>
<circle cx="76.7" cy="425.4" r="0.62" fill="#46d04a"/>
<circle cx="95.7" cy="414" r="0.62" fill="#46d04a"/>
<circle cx="100.5" cy="419.4" r="0.62" fill="#46d04a"/>
<polygon points="58.61,449.60 65.20,442.26 67.43,444.26 68.80,434.20 58.95,436.65 61.18,438.65 54.59,446.00" fill="#f5e400" stroke="#0a0608" stroke-width="0.6" stroke-opacity="0.6"/>
<rect x="117.4" y="468.5" width="10.8" height="3.0" fill="#fff"/>
</svg>
</body></html>
